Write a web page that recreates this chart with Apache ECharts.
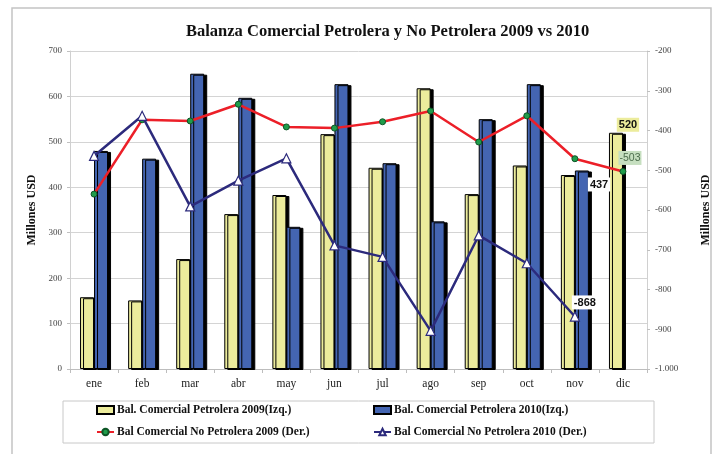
<!DOCTYPE html>
<html>
<head>
<meta charset="utf-8">
<script src="https://cdn.jsdelivr.net/npm/echarts@6/dist/echarts.min.js"></script>
<style>
  html, body { margin: 0; padding: 0; background: #fff; }
  #chart { width: 717px; height: 454px; }
</style>
</head>
<body>
<div id="chart"></div>
<script>
// categorias y valores
const months = ['ene', 'feb', 'mar', 'abr', 'may', 'jun', 'jul', 'ago', 'sep', 'oct', 'nov', 'dic'];
const petrolera2009 = [158, 151, 242, 341, 383, 517, 443, 618, 385, 448, 427, 520];
const petrolera2010 = [480, 463, 650, 597, 313, 627, 453, 325, 550, 627, 437, null];
const noPetrolera2009 = [-560, -373, -376, -334, -391, -394, -378, -351, -429, -363, -471, -503];
const noPetrolera2010 = [-464, -363, -591, -526, -470, -689, -718, -904, -664, -734, -868, null];
const leftTicks = { min: 0, max: 700, interval: 100 };
const rightTicks = { min: -1000, max: -200, interval: 100 };

const names = [
  'Bal. Comercial Petrolera 2009(Izq.)',
  'Bal. Comercial Petrolera 2010(Izq.)',
  'Bal Comercial No Petrolera 2009 (Der.)',
  'Bal Comercial No Petrolera 2010 (Der.)'
];

const serif = '"Liberation Serif", "DejaVu Serif", serif';
const sans = '"Liberation Sans", Arial, sans-serif';

const barShadow = {
  borderColor: '#000',
  borderWidth: 1,
  shadowColor: '#000',
  shadowBlur: 0,
  shadowOffsetX: 3,
  shadowOffsetY: 1
};

const boxLabel = (bg, color) => ({
  show: true,
  fontFamily: sans,
  fontWeight: 'bold',
  fontSize: 11,
  color: color,
  backgroundColor: bg,
  padding: [2, 2, 1, 2]
});

// agrega una etiqueta solo en el punto indicado
function withLabel(values, idx, label) {
  return values.map((v, i) => (i === idx ? { value: v, label: label } : v));
}

const legendText = { fontFamily: serif, fontWeight: 'bold', fontSize: 11.5, color: '#111', padding: [0, 0, 0, -2] };

const chart = echarts.init(document.getElementById('chart'));
chart.setOption({
  animation: false,
  title: {
    text: 'Balanza Comercial Petrolera y No Petrolera 2009 vs 2010',
    left: 181,
    top: 18,
    textStyle: { fontFamily: serif, fontWeight: 'bold', fontSize: 16.5, color: '#111' }
  },
  graphic: [
    { type: 'rect', shape: { x: 12, y: 8, width: 699, height: 470 }, style: { fill: 'none', stroke: '#c4c4c4', lineWidth: 1.5 }, silent: true, z: -1 },
    { type: 'rect', shape: { x: 63, y: 401, width: 591, height: 42 }, style: { fill: 'none', stroke: '#c8c8c8', lineWidth: 1 }, silent: true, z: -1 }
  ],
  legend: [
    {
      orient: 'vertical', left: 96, top: 404, padding: 0, itemGap: 10, itemWidth: 17, itemHeight: 8,
      textStyle: legendText,
      data: [{ name: names[0], icon: 'rect' }, { name: names[2] }]
    },
    {
      orient: 'vertical', left: 373, top: 404, padding: 0, itemGap: 10, itemWidth: 17, itemHeight: 8,
      textStyle: legendText,
      data: [{ name: names[1], icon: 'rect' }, { name: names[3] }]
    }
  ],
  grid: { left: 70, right: 70, top: 51, bottom: 85, outerBoundsMode: 'none' },
  xAxis: {
    type: 'category',
    data: months,
    axisLine: { lineStyle: { color: '#bdbdbd' } },
    axisTick: { show: true, length: 4, lineStyle: { color: '#bdbdbd' } },
    axisLabel: { fontFamily: serif, fontSize: 11.5, color: '#222', margin: 9 }
  },
  yAxis: [
    {
      type: 'value',
      min: leftTicks.min, max: leftTicks.max, interval: leftTicks.interval,
      name: 'Millones USD', nameLocation: 'middle', nameGap: 32, nameRotate: 90,
      nameTextStyle: { fontFamily: serif, fontWeight: 'bold', fontSize: 12, color: '#111' },
      axisLine: { show: true, lineStyle: { color: '#d0d0d0' } },
      axisTick: { show: true, length: 3, lineStyle: { color: '#c0c0c0' } },
      axisLabel: { fontFamily: serif, fontSize: 9, color: '#444', margin: 8 },
      splitLine: { lineStyle: { color: '#d4d4d4', width: 1 } }
    },
    {
      type: 'value',
      min: rightTicks.min, max: rightTicks.max, interval: rightTicks.interval,
      name: 'Millones USD', nameLocation: 'middle', nameGap: 53, nameRotate: 90,
      nameTextStyle: { fontFamily: serif, fontWeight: 'bold', fontSize: 12, color: '#111' },
      axisLine: { show: true, lineStyle: { color: '#d0d0d0' } },
      axisTick: { show: true, length: 3, lineStyle: { color: '#c0c0c0' } },
      axisLabel: {
        fontFamily: serif, fontSize: 9, color: '#444', margin: 8,
        formatter: v => (v <= -1000 ? '-' + Math.floor(-v / 1000) + '.' + String(-v % 1000).padStart(3, '0') : String(v))
      },
      splitLine: { show: false }
    }
  ],
  series: [
    {
      name: names[0],
      type: 'bar',
      yAxisIndex: 0,
      barWidth: 14,
      barGap: '0%',
      itemStyle: Object.assign({ color: '#ecec9c' }, barShadow),
      data: withLabel(petrolera2009, 11, Object.assign(boxLabel('#ecec9c', '#111'), { position: 'top', offset: [12, 4] }))
    },
    {
      name: names[1],
      type: 'bar',
      yAxisIndex: 0,
      barWidth: 14,
      barGap: '0%',
      itemStyle: Object.assign({ color: '#4465b2' }, barShadow),
      data: withLabel(petrolera2010, 10, Object.assign(boxLabel('#fff', '#111'), { position: ['100%', 7], offset: [-1, 0] }))
    },
    {
      name: names[2],
      type: 'line',
      yAxisIndex: 1,
      z: 5,
      symbol: 'circle',
      symbolSize: 6,
      lineStyle: { color: '#ec1f28', width: 2.5 },
      itemStyle: { color: '#1f9c4a', borderColor: '#0d5526', borderWidth: 1 },
      data: withLabel(noPetrolera2009, 11, Object.assign(boxLabel('#c6dfc0', '#4d6e4d'), { position: 'top', offset: [7, 2], fontWeight: 'normal', fontSize: 10.5, padding: [2, 1, 1, 1] }))
    },
    {
      name: names[3],
      type: 'line',
      yAxisIndex: 1,
      z: 6,
      symbol: 'triangle',
      symbolSize: 9,
      lineStyle: { color: '#2c2a7c', width: 2.5 },
      itemStyle: { color: '#fff', borderColor: '#2c2a7c', borderWidth: 1.2 },
      data: withLabel(noPetrolera2010, 10, Object.assign(boxLabel('#fff', '#111'), { position: 'top', offset: [10, 3] }))
    }
  ]
});
</script>
</body>
</html>
